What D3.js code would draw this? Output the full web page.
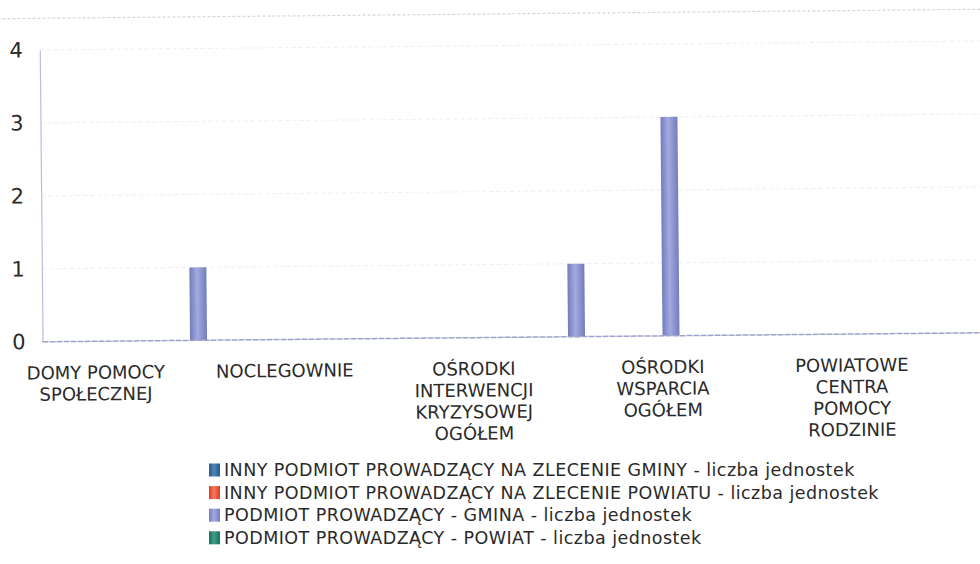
<!DOCTYPE html>
<html>
<head>
<meta charset="utf-8">
<script src="https://cdn.jsdelivr.net/npm/d3@7"></script>
<style>
  html, body { margin: 0; padding: 0; background: #fff; }
  svg { display: block; }
  text { font-family: "DejaVu Sans", sans-serif; fill: #2a2a2a; }
</style>
</head>
<body>
<svg id="chart" width="980" height="564"></svg>
<script>
// Infrastructure units by operating entity (counts)
const categories = [
  "DOMY POMOCY SPOŁECZNEJ",
  "MIESZKANIA CHRONIONE",
  "NOCLEGOWNIE",
  "OŚRODKI ADOPCYJNE",
  "OŚRODKI INTERWENCJI KRYZYSOWEJ OGÓŁEM",
  "OŚRODKI POMOCY SPOŁECZNEJ",
  "OŚRODKI WSPARCIA OGÓŁEM",
  "PLACÓWKI SPECJALISTYCZNEGO PORADNICTWA",
  "POWIATOWE CENTRA POMOCY RODZINIE",
  "ŚRODOWISKOWE DOMY SAMOPOMOCY"
];
const seriesNames = [
  "INNY PODMIOT PROWADZĄCY NA ZLECENIE GMINY - liczba jednostek",
  "INNY PODMIOT PROWADZĄCY NA ZLECENIE POWIATU - liczba jednostek",
  "PODMIOT PROWADZĄCY - GMINA - liczba jednostek",
  "PODMIOT PROWADZĄCY - POWIAT - liczba jednostek"
];
const zlecenieGminy   = [0, 0, 0, 0, 0, 0, 0, 0, 0, 0];
const zleceniePowiatu = [0, 0, 0, 0, 0, 0, 0, 0, 0, 0];
const gmina           = [0, 1, 0, 0, 0, 1, 3, 0, 0, 0];
const powiat          = [0, 0, 0, 0, 0, 0, 0, 0, 0, 0];
const seriesValues = [zlecenieGminy, zleceniePowiatu, gmina, powiat];
const yTicks = [0, 1, 2, 3, 4];
const seriesColors = [
  ["#24598a", "#4f86b8"],
  ["#e23a22", "#f57a5c"],
  ["#737cbe", "#a3aadf"],
  ["#17705f", "#3f9d8a"]
];

const svg = d3.select("#chart");
const defs = svg.append("defs");
seriesColors.forEach((c, i) => {
  const g = defs.append("linearGradient").attr("id", "grad" + i)
    .attr("x1", "0%").attr("x2", "100%").attr("y1", "0%").attr("y2", "0%");
  g.append("stop").attr("offset", "0%").attr("stop-color", c[0]);
  g.append("stop").attr("offset", "45%").attr("stop-color", c[1]);
  g.append("stop").attr("offset", "100%").attr("stop-color", c[0]);
});

// plot area sits slightly tilted
const root = svg.append("g").attr("transform", "rotate(-0.55 490 282)");

const axisX = 42;
const x = d3.scaleBand().domain(categories).range([47.75, 992.75]);
const xs = d3.scaleBand().domain(d3.range(seriesNames.length))
  .range([13.25, x.bandwidth() - 13.25]);
const y = d3.scaleLinear().domain([0, 4]).range([337.5, 45.7]);

// top rule
root.append("line")
  .attr("x1", -10).attr("x2", 1000).attr("y1", 14).attr("y2", 14)
  .attr("stroke", "#d4d6de").attr("stroke-width", 1.2).attr("stroke-dasharray", "3 2");

// faint grid lines
root.append("g").selectAll("line").data(yTicks.filter(d => d > 0)).join("line")
  .attr("x1", axisX).attr("x2", 990)
  .attr("y1", d => y(d)).attr("y2", d => y(d))
  .attr("stroke", "#eceef4").attr("stroke-dasharray", "4 3");

// y axis
const yAxis = root.append("g").attr("transform", `translate(${axisX},0)`)
  .call(d3.axisLeft(y).tickValues(yTicks).tickFormat(d3.format("d")).tickSize(0).tickPadding(17));
yAxis.select(".domain").attr("stroke", "#b9bedf").attr("stroke-width", 1.2);
yAxis.selectAll("text").style("font-size", "21px").attr("fill", "#333")
  .style("font-family", "'DejaVu Sans', sans-serif");

// bars
const groups = root.append("g").selectAll("g").data(seriesValues).join("g")
  .attr("fill", (d, i) => `url(#grad${i})`);
groups.each(function(vals, si) {
  d3.select(this).selectAll("rect")
    .data(vals.map((v, ci) => ({ v, c: categories[ci] })).filter(d => d.v > 0))
    .join("rect")
    .attr("x", d => x(d.c) + xs(si))
    .attr("width", xs.bandwidth())
    .attr("y", d => y(d.v))
    .attr("height", d => y(0) - y(d.v));
});

// x axis baseline
root.append("line")
  .attr("x1", axisX).attr("x2", 995).attr("y1", y(0)).attr("y2", y(0))
  .attr("stroke", "#9ca2cc").attr("stroke-width", 1.5).attr("stroke-dasharray", "6 1");

// category labels (every other category is labelled)
function wrap(label, maxChars) {
  const words = label.split(" ");
  const lines = [];
  let cur = "";
  words.forEach(w => {
    const t = cur ? cur + " " + w : w;
    if (t.length > maxChars && cur) { lines.push(cur); cur = w; }
    else cur = t;
  });
  if (cur) lines.push(cur);
  return lines;
}
const xLabels = root.append("g").selectAll("text")
  .data(categories.filter((d, i) => i % 2 === 0)).join("text")
  .attr("x", d => x(d) + x.bandwidth() / 2)
  .attr("y", 375)
  .attr("text-anchor", "middle")
  .style("font-size", "18px");
xLabels.each(function(d) {
  const t = d3.select(this);
  wrap(d, 12).forEach((line, i) => {
    t.append("tspan").attr("x", x(d) + x.bandwidth() / 2)
      .attr("dy", i === 0 ? 0 : 21.5).text(line);
  });
});

// legend
const legend = svg.append("g").attr("transform", "translate(209,464.5)");
const rows = legend.selectAll("g").data(seriesNames).join("g")
  .attr("transform", (d, i) => `translate(0,${i * 22.6})`);
rows.append("rect").attr("width", 11).attr("height", 13).attr("y", -1)
  .attr("fill", (d, i) => `url(#grad${i})`);
rows.append("text").attr("x", 15).attr("y", 11.5)
  .style("font-size", "17.5px").style("letter-spacing", "0.45px").text(d => d);
</script>
</body>
</html>
